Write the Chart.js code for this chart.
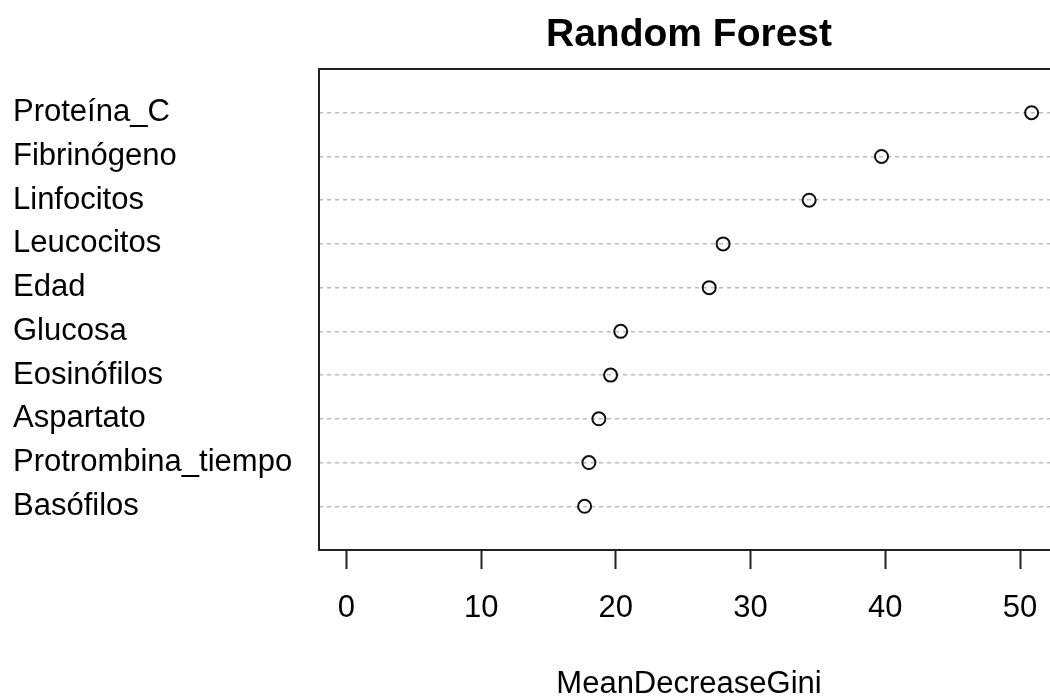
<!DOCTYPE html>
<html>
<head>
<meta charset="utf-8">
<title>Random Forest</title>
<script src="https://cdn.jsdelivr.net/npm/chart.js@4.4.1/dist/chart.umd.min.js"></script>
<style>
  html, body { margin: 0; padding: 0; background: #fff; overflow: hidden; }
  #frame { width: 1050px; height: 700px; overflow: hidden; }
  canvas { display: block; }
</style>
</head>
<body>
<div id="frame"><canvas id="chart" width="1059" height="700"></canvas></div>
<script>
// variable importance, listed top to bottom
const variables = ['Proteína_C', 'Fibrinógeno', 'Linfocitos', 'Leucocitos', 'Edad',
                   'Glucosa', 'Eosinófilos', 'Aspartato', 'Protrombina_tiempo', 'Basófilos'];
const giniValues = [50.86, 39.72, 34.35, 27.96, 26.93, 20.36, 19.61, 18.74, 18.0, 17.68];
const xTicks = [0, 10, 20, 30, 40, 50];

const FONT = "'Liberation Sans', Arial, sans-serif";
const n = variables.length;

// dotchart puts the first row on top: row position n for index 0
const points = giniValues.map((v, i) => ({ x: v, y: n - i }));

// R-style 4% extension of the x range
const xMax = Math.max(...giniValues);
const pad = xMax * 0.04;

// box around the plot region + title on top of it
const framePlugin = {
  id: 'frame',
  afterDraw(chart) {
    const { ctx, chartArea: a } = chart;
    ctx.save();
    ctx.strokeStyle = '#222';
    ctx.lineWidth = 2;
    ctx.strokeRect(a.left, a.top, a.right - a.left, a.bottom - a.top);
    ctx.fillStyle = '#000';
    ctx.font = 'bold 39px ' + FONT;
    ctx.textAlign = 'center';
    ctx.textBaseline = 'middle';
    ctx.fillText('Random Forest', (a.left + a.right) / 2, 35);
    ctx.restore();
  }
};

new Chart(document.getElementById('chart'), {
  type: 'scatter',
  data: {
    datasets: [{
      data: points,
      pointStyle: 'circle',
      pointRadius: 6.5,
      pointHoverRadius: 6.5,
      borderColor: '#111',
      borderWidth: 2,
      backgroundColor: 'rgba(0,0,0,0)'
    }]
  },
  options: {
    responsive: false,
    animation: false,
    layout: { autoPadding: false, padding: { left: 13, top: 69, right: 0, bottom: 0 } },
    plugins: { legend: { display: false }, tooltip: { enabled: false }, title: { display: false } },
    scales: {
      x: {
        type: 'linear',
        min: -pad,
        max: xMax + pad,
        afterBuildTicks: s => { s.ticks = xTicks.map(v => ({ value: v })); },
        afterFit: s => {
          s.height = 150;
          s.paddingLeft = 0;
          s.paddingRight = 0;
        },
        border: { display: false },
        grid: {
          drawOnChartArea: false,
          drawTicks: true,
          tickLength: 19,
          tickColor: '#222',
          tickWidth: 2
        },
        ticks: {
          color: '#000',
          padding: 21,
          maxRotation: 0,
          font: { family: FONT, size: 31 }
        },
        title: {
          display: true,
          text: 'MeanDecreaseGini',
          color: '#000',
          font: { family: FONT, size: 31 },
          padding: { top: 0, bottom: -3 }
        }
      },
      y: {
        type: 'linear',
        min: 0,
        max: n + 1,
        afterBuildTicks: s => {
          s.ticks = [];
          for (let i = 0; i <= n + 1; i++) s.ticks.push({ value: i });
        },
        afterFit: s => {
          s.width = 306;
          s.paddingTop = 0;
          s.paddingBottom = 0;
        },
        border: { display: false, dash: [4, 4] },
        grid: {
          drawTicks: false,
          lineWidth: 1.5,
          color: c => (c.tick.value >= 1 && c.tick.value <= n) ? '#bdbdbd' : 'rgba(0,0,0,0)'
        },
        ticks: {
          color: '#000',
          crossAlign: 'far',
          padding: 0,
          font: { family: FONT, size: 31 },
          callback: v => (v >= 1 && v <= n) ? variables[n - v] : ''
        }
      }
    }
  },
  plugins: [framePlugin]
});
</script>
</body>
</html>
